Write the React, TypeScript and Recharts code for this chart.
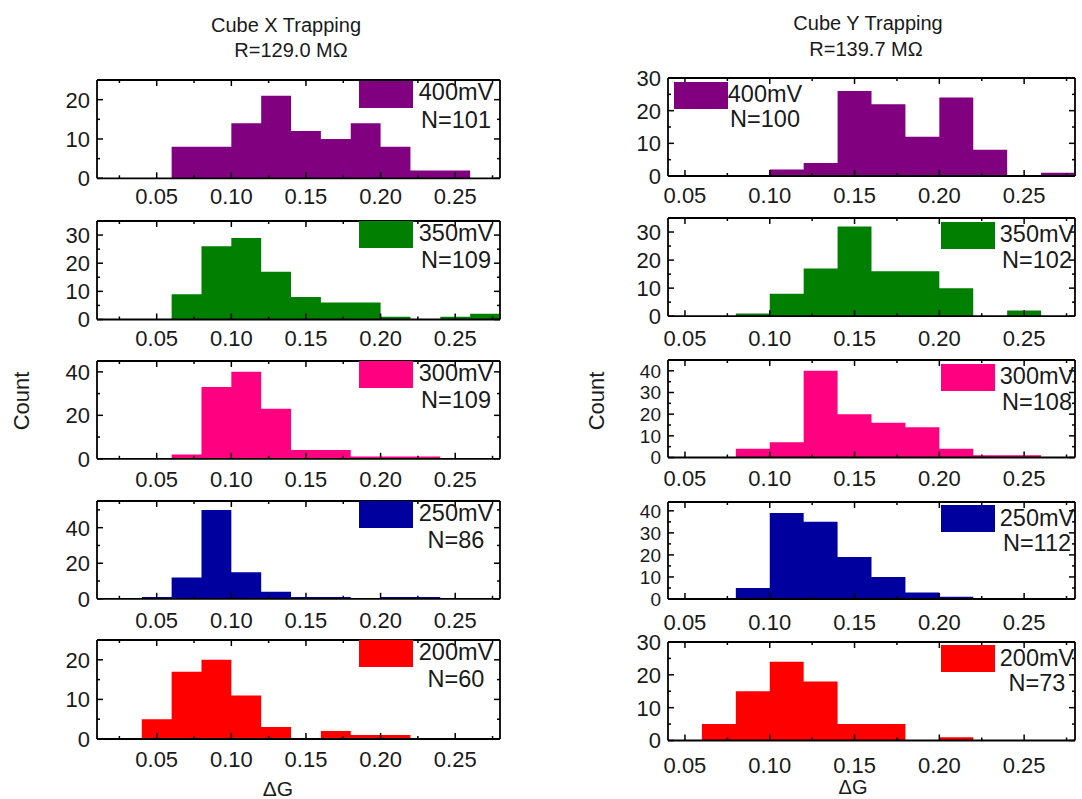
import React from 'react';
import { ComposedChart, Area, XAxis, YAxis } from 'recharts';

// ---------- DATA ----------
const binStarts = [0.04, 0.06, 0.08, 0.1, 0.12, 0.14, 0.16, 0.18, 0.2, 0.22, 0.24, 0.26];
const binEnd = 0.28;

// Cube X trapping counts per bin
const cubeX400 = [0, 8, 8, 14, 21, 12, 10, 14, 8, 2, 2, 0];
const cubeX350 = [0, 9, 26, 29, 17, 8, 6, 6, 1, 0, 1, 2];
const cubeX300 = [0, 2, 33, 40, 23, 4, 4, 1, 1, 1, 0, 0];
const cubeX250 = [1, 12, 50, 15, 4, 1, 1, 0, 1, 1, 0, 0];
const cubeX200 = [5, 17, 20, 11, 3, 0, 2, 1, 1, 0, 0, 0];

// Cube Y trapping counts per bin
const cubeY400 = [0, 0, 0, 2, 4, 26, 22, 12, 24, 8, 0, 1];
const cubeY350 = [0, 0, 1, 8, 17, 32, 16, 16, 10, 0, 2, 0];
const cubeY300 = [0, 0, 4, 7, 40, 20, 16, 14, 4, 1, 1, 0];
const cubeY250 = [0, 0, 5, 39, 35, 19, 10, 3, 1, 0, 0, 0];
const cubeY200 = [0, 5, 15, 24, 18, 5, 5, 0, 1, 0, 0, 0];

const voltages = ['400mV', '350mV', '300mV', '250mV', '200mV'];
const countsX = [101, 109, 109, 86, 60];
const countsY = [100, 102, 108, 112, 73];
const colors = ['#80007F', '#007F00', '#FF0080', '#00009F', '#FF0000'];

const xMajorTicks = [0.05, 0.1, 0.15, 0.2, 0.25];
const xMinorTicksX = [0.025, 0.075, 0.125, 0.175, 0.225, 0.275];
const xMinorTicksY = [0.075, 0.125, 0.175, 0.225, 0.275];

const yMaxX = [25, 35, 45, 55, 25];
const yMajorX = [[0, 10, 20], [0, 10, 20, 30], [0, 20, 40], [0, 20, 40], [0, 10, 20]];
const yMinorX = [[5, 15], [5, 15, 25], [10, 30], [10, 30, 50], [5, 15]];

const yMaxY = [30, 35, 45, 44, 30];
const yMajorY = [[0, 10, 20, 30], [0, 10, 20, 30], [0, 10, 20, 30, 40], [0, 10, 20, 30, 40], [0, 10, 20, 30]];
const yMinorY = [[5, 15, 25], [5, 15, 25], [5, 15, 25, 35], [5, 15, 25, 35], [5, 15, 25]];

const seriesX = [cubeX400, cubeX350, cubeX300, cubeX250, cubeX200];
const seriesY = [cubeY400, cubeY350, cubeY300, cubeY250, cubeY200];

// ---------- LAYOUT ----------
const FONT = '"Liberation Sans", Arial, Helvetica, sans-serif';
const TEXT = '#1a1a1a';
const LEFT_COL = { x: 97, w: 403, domain: [0.01, 0.28] };
const RIGHT_COL = { x: 668, w: 407, domain: [0.04, 0.28] };
const rowsX = [
  [80, 178.3],
  [220.5, 319],
  [360.5, 458.3],
  [500.5, 598.3],
  [639.5, 738.5],
];
const rowsY = [
  [78, 176],
  [218.3, 316.5],
  [360, 457.5],
  [501.5, 598.5],
  [641.5, 740],
];
const xGapX = [10, 11, 12, 13, 12];
const xGapY = [11, 14, 13, 15, 16.5];
const yFontX = [22, 22, 22, 22, 22];
const yFontY = [22, 22, 19, 19, 22];

const ML = 60, MR = 12, MT = 22, MB = 40;

const buildData = (vals: number[]) => {
  const d = binStarts.map((x, i) => ({ x, count: vals[i] }));
  d.push({ x: binEnd, count: 0 });
  return d;
};

const isIn = (arr: number[], v: number) => arr.some((m) => Math.abs(m - v) < 1e-9);

const MAJOR = 6;
const MINOR = 3;
const TICK_FS = 22;
const LEG_FS = 23.5;

const makeBottomTick = (majors: number[], gap: number) => (props: any) => {
  const { x, y, payload } = props;
  const v = payload.value;
  const major = isIn(majors, v);
  return (
    <g>
      <line x1={x} x2={x} y1={y} y2={y - (major ? MAJOR : MINOR)} stroke="#000" strokeWidth={1.5} />
      {major && (
        <text x={x} y={y + gap + TICK_FS * 0.716} textAnchor="middle" fontSize={TICK_FS} fill={TEXT} fontFamily={FONT}>
          {v.toFixed(2)}
        </text>
      )}
    </g>
  );
};
const makeTopTick = (majors: number[]) => (props: any) => {
  const { x, y, payload } = props;
  const major = isIn(majors, payload.value);
  return <line x1={x} x2={x} y1={y} y2={y + (major ? MAJOR : MINOR)} stroke="#000" strokeWidth={1.5} />;
};
const makeLeftTick = (majors: number[], fs: number) => (props: any) => {
  const { x, y, payload } = props;
  const v = payload.value;
  const major = isIn(majors, v);
  return (
    <g>
      <line x1={x} x2={x + (major ? MAJOR : MINOR)} y1={y} y2={y} stroke="#000" strokeWidth={1.5} />
      {major && (
        <text x={x - 7} y={y + fs * 0.36} textAnchor="end" fontSize={fs} fill={TEXT} fontFamily={FONT}>
          {v}
        </text>
      )}
    </g>
  );
};
const makeRightTick = (majors: number[]) => (props: any) => {
  const { x, y, payload } = props;
  const major = isIn(majors, payload.value);
  return <line x1={x} x2={x - (major ? MAJOR : MINOR)} y1={y} y2={y} stroke="#000" strokeWidth={1.5} />;
};

type LegendPos = { boxDx: number; boxDy: number; textDx: number; l1: number; l2: number; fromRight: boolean };

const centered: React.CSSProperties = {
  position: 'absolute',
  transform: 'translate(-50%, -50%)',
  whiteSpace: 'nowrap',
  lineHeight: 1,
  fontFamily: FONT,
  color: TEXT,
};

const Panel = (p: {
  col: { x: number; w: number; domain: number[] };
  top: number;
  bottom: number;
  values: number[];
  color: string;
  yMax: number;
  yMajor: number[];
  yMinor: number[];
  yFont: number;
  xMinor: number[];
  xGap: number;
  voltage: string;
  n: number;
  legend: LegendPos;
}) => {
  const h = p.bottom - p.top;
  const data = buildData(p.values);
  const axisLine = { stroke: '#000', strokeWidth: 1.8 };
  const xTicks = [...xMajorTicks, ...p.xMinor].sort((a, b) => a - b);
  const yTicks = [...p.yMajor, ...p.yMinor].sort((a, b) => a - b);
  const lg = p.legend;
  const anchorX = lg.fromRight ? p.col.x + p.col.w : p.col.x;
  return (
    <>
      <div style={{ position: 'absolute', left: p.col.x - ML - 1, top: p.top - MT - 1 }}>
        <ComposedChart
          width={p.col.w + ML + MR + 2}
          height={h + MT + MB + 2}
          data={data}
          margin={{ top: MT, right: MR, bottom: MB, left: ML }}
        >
          <Area
            xAxisId="b"
            yAxisId="l"
            dataKey="count"
            type="stepAfter"
            fill={p.color}
            fillOpacity={1}
            stroke="none"
            isAnimationActive={false}
            dot={false}
            activeDot={false}
          />
          <XAxis
            xAxisId="b"
            dataKey="x"
            type="number"
            domain={p.col.domain}
            allowDataOverflow
            ticks={xTicks}
            interval={0}
            tickSize={0}
            tickMargin={0}
            tickLine={false}
            height={1}
            axisLine={axisLine}
            tick={makeBottomTick(xMajorTicks, p.xGap)}
          />
          <XAxis
            xAxisId="t"
            orientation="top"
            dataKey="x"
            type="number"
            domain={p.col.domain}
            allowDataOverflow
            ticks={xTicks}
            interval={0}
            tickSize={0}
            tickMargin={0}
            tickLine={false}
            height={1}
            axisLine={axisLine}
            tick={makeTopTick(xMajorTicks)}
          />
          <YAxis
            yAxisId="l"
            type="number"
            domain={[0, p.yMax]}
            allowDataOverflow
            ticks={yTicks}
            interval={0}
            tickSize={0}
            tickMargin={0}
            tickLine={false}
            width={1}
            axisLine={axisLine}
            tick={makeLeftTick(p.yMajor, p.yFont)}
          />
          <YAxis
            yAxisId="r"
            orientation="right"
            type="number"
            domain={[0, p.yMax]}
            allowDataOverflow
            ticks={yTicks}
            interval={0}
            tickSize={0}
            tickMargin={0}
            tickLine={false}
            width={1}
            axisLine={axisLine}
            tick={makeRightTick(p.yMajor)}
          />
        </ComposedChart>
      </div>
      <div
        style={{
          position: 'absolute',
          left: anchorX + lg.boxDx,
          top: p.top + lg.boxDy,
          width: 54,
          height: 27,
          background: p.color,
        }}
      />
      <div style={{ ...centered, left: anchorX + lg.textDx, top: p.top + lg.l1, fontSize: LEG_FS }}>{p.voltage}</div>
      <div style={{ ...centered, left: anchorX + lg.textDx, top: p.top + lg.l2, fontSize: LEG_FS }}>N={p.n}</div>
    </>
  );
};

const legendX: LegendPos = { boxDx: -141, boxDy: 0.5, textDx: -44, l1: 13, l2: 40.5, fromRight: true };
const legendYTop: LegendPos = { boxDx: 6, boxDy: 3.7, textDx: 97, l1: 17, l2: 42, fromRight: false };
const legendY: LegendPos = { boxDx: -134.3, boxDy: 3.8, textDx: -38, l1: 17, l2: 42.5, fromRight: true };

export default function App() {
  return (
    <div style={{ position: 'absolute', left: 0, top: 0, width: 1082, height: 799, background: '#fff', overflow: 'hidden' }}>
      <div style={{ ...centered, left: 286, top: 25, fontSize: 20 }}>Cube X Trapping</div>
      <div style={{ ...centered, left: 291, top: 50, fontSize: 20 }}>R=129.0 MΩ</div>
      <div style={{ ...centered, left: 868, top: 23, fontSize: 20 }}>Cube Y Trapping</div>
      <div style={{ ...centered, left: 866, top: 49, fontSize: 20 }}>R=139.7 MΩ</div>

      <div style={{ ...centered, left: 22, top: 401, fontSize: 22, transform: 'translate(-50%, -50%) rotate(-90deg)' }}>Count</div>
      <div style={{ ...centered, left: 597, top: 401, fontSize: 22, transform: 'translate(-50%, -50%) rotate(-90deg)' }}>Count</div>

      <div style={{ ...centered, left: 278, top: 788, fontSize: 21 }}>ΔG</div>
      <div style={{ ...centered, left: 853, top: 787, fontSize: 20 }}>ΔG</div>

      {seriesX.map((vals, i) => (
        <Panel
          key={'x' + i}
          col={LEFT_COL}
          top={rowsX[i][0]}
          bottom={rowsX[i][1]}
          values={vals}
          color={colors[i]}
          yMax={yMaxX[i]}
          yMajor={yMajorX[i]}
          yMinor={yMinorX[i]}
          yFont={yFontX[i]}
          xMinor={xMinorTicksX}
          xGap={xGapX[i]}
          voltage={voltages[i]}
          n={countsX[i]}
          legend={legendX}
        />
      ))}
      {seriesY.map((vals, i) => (
        <Panel
          key={'y' + i}
          col={RIGHT_COL}
          top={rowsY[i][0]}
          bottom={rowsY[i][1]}
          values={vals}
          color={colors[i]}
          yMax={yMaxY[i]}
          yMajor={yMajorY[i]}
          yMinor={yMinorY[i]}
          yFont={yFontY[i]}
          xMinor={xMinorTicksY}
          xGap={xGapY[i]}
          voltage={voltages[i]}
          n={countsY[i]}
          legend={i === 0 ? legendYTop : legendY}
        />
      ))}
    </div>
  );
}
